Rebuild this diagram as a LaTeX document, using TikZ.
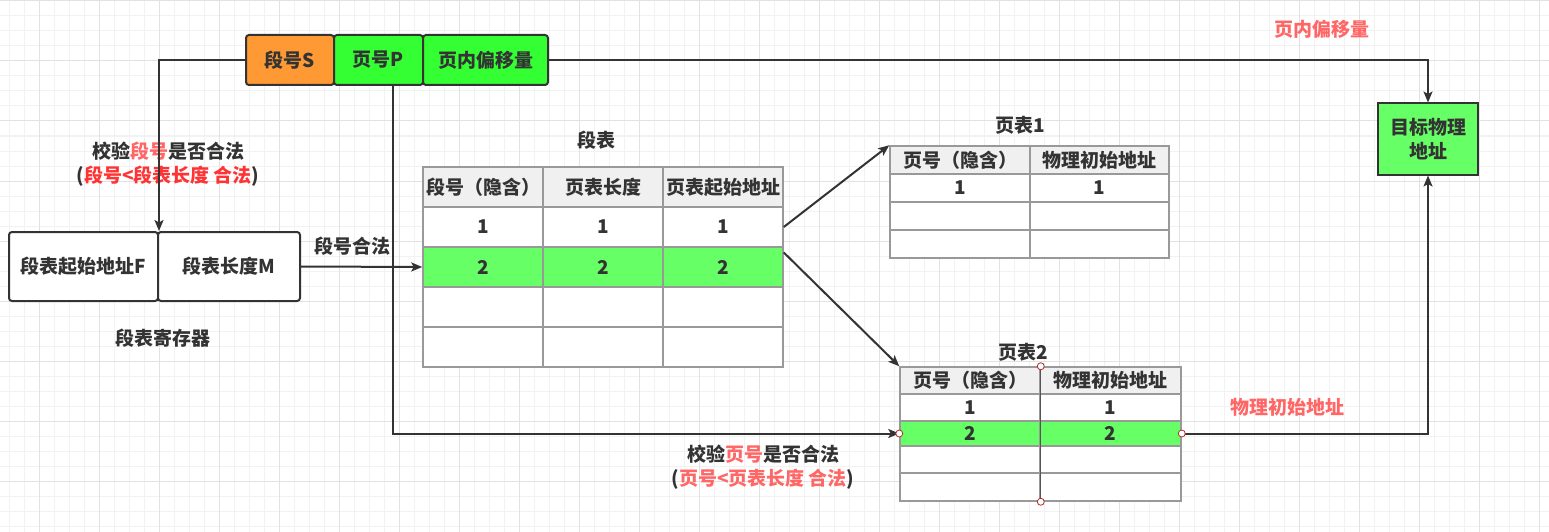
\documentclass[tikz,border=0pt]{standalone}
\usepackage{fontspec}
\setmainfont{Noto Sans CJK SC}
\usetikzlibrary{arrows.meta,calc}
\definecolor{ink}{HTML}{333333}
\definecolor{orS}{HTML}{FF9933}
\definecolor{grS}{HTML}{33FF33}
\definecolor{grR}{HTML}{66FF66}
\definecolor{hdrG}{HTML}{F0F0F0}
\definecolor{tb}{HTML}{999999}
\definecolor{redA}{HTML}{FF6666}
\definecolor{redB}{HTML}{FF3333}
\definecolor{gmin}{HTML}{F2F2F2}
\definecolor{gmaj}{HTML}{E2E2E2}
\definecolor{hdl}{HTML}{B03030}
\definecolor{divd}{HTML}{555555}
\newcommand\tcell[7]{\node[cell,fill=#6,minimum width=#4,minimum height=#5] (#1) at (#2,#3) {#7};}
\begin{document}
\begin{tikzpicture}[x=1pt,y=-1pt,
 txt/.style={text=ink,font=\fontsize{19}{24}\selectfont\bfseries,inner sep=0pt},
 box/.style={txt,draw=ink,line width=2pt,rounded corners=3pt},
 cell/.style={txt,draw=tb,line width=1.5pt},
 conn/.style={draw=ink,line width=2pt,-{Stealth[length=11pt,width=9pt,inset=2.5pt]}},
 lbl/.style={txt,align=center},
 handle/.style={circle,draw=hdl,fill=white,line width=0.8pt,minimum size=7pt,inner sep=0pt}]
\useasboundingbox (0,0) rectangle (1549,532);
\fill[white] (0,0) rectangle (1549,532);
% grid
\foreach \i in {0,...,103} {\draw[gmin,line width=1pt] ({9.3+15*\i},0) -- ({9.3+15*\i},532);}
\foreach \i in {0,...,35} {\draw[gmin,line width=1pt] (0,{1+15*\i}) -- (1549,{1+15*\i});}
\foreach \i in {0,...,25} {\draw[gmaj,line width=1pt] ({39.3+60*\i},0) -- ({39.3+60*\i},532);}
\foreach \i in {0,...,8} {\draw[gmaj,line width=1pt] (0,{1+60*\i}) -- (1549,{1+60*\i});}

% logical address fields
\node[box,fill=orS,minimum width=88,minimum height=50] (S) at (290,60) {段号S};
\node[box,fill=grS,minimum width=89,minimum height=50] (P) at (378.5,60) {页号P};
\node[box,fill=grS,minimum width=125,minimum height=50] (O) at (485.5,60) {页内偏移量};

% segment table register
\node[box,fill=white,minimum width=149,minimum height=69] (F) at (83.5,266.5) {段表起始地址F};
\node[box,fill=white,minimum width=142,minimum height=69] (M) at (229,266.5) {段表长度M};
\node[txt] (regl) at (163,338) {段表寄存器};

% target
\node[txt,draw=ink,line width=2pt,fill=grR,minimum width=100,minimum height=71,align=center] (T) at (1428,139) {目标物理\\地址};

% segment table
\node[txt] (stitle) at (596,140) {段表};
\tcell{s01}{483}{187}{120}{40}{hdrG}{段号（隐含）}
\tcell{s02}{603}{187}{120}{40}{hdrG}{页表长度}
\tcell{s03}{723}{187}{120}{40}{hdrG}{页表起始地址}
\tcell{s11}{483}{227}{120}{40}{white}{1}
\tcell{s12}{603}{227}{120}{40}{white}{1}
\tcell{s13}{723}{227}{120}{40}{white}{1}
\tcell{s21}{483}{267}{120}{40}{grR}{2}
\tcell{s22}{603}{267}{120}{40}{grR}{2}
\tcell{s23}{723}{267}{120}{40}{grR}{2}
\tcell{s31}{483}{307}{120}{40}{white}{}
\tcell{s32}{603}{307}{120}{40}{white}{}
\tcell{s33}{723}{307}{120}{40}{white}{}
\tcell{s41}{483}{347}{120}{40}{white}{}
\tcell{s42}{603}{347}{120}{40}{white}{}
\tcell{s43}{723}{347}{120}{40}{white}{}

% page table 1
\node[txt] (q1title) at (1020,125) {页表1};
\tcell{q01}{960}{160}{140}{28}{hdrG}{页号（隐含）}
\tcell{q02}{1099.5}{160}{139}{28}{hdrG}{物理初始地址}
\tcell{q11}{960}{188}{140}{28}{white}{1}
\tcell{q12}{1099.5}{188}{139}{28}{white}{1}
\tcell{q21}{960}{216}{140}{28}{white}{}
\tcell{q22}{1099.5}{216}{139}{28}{white}{}
\tcell{q31}{960}{244}{140}{28}{white}{}
\tcell{q32}{1099.5}{244}{139}{28}{white}{}

% page table 2
\node[txt] (q2title) at (1023,352) {页表2};
\tcell{r01}{970}{380.5}{140}{27}{hdrG}{页号（隐含）}
\tcell{r02}{1110.5}{380.5}{141}{27}{hdrG}{物理初始地址}
\tcell{r11}{970}{407.5}{140}{27}{white}{1}
\tcell{r12}{1110.5}{407.5}{141}{27}{white}{1}
\tcell{r21}{970}{433.5}{140}{25}{grR}{2}
\tcell{r22}{1110.5}{433.5}{141}{25}{grR}{2}
\tcell{r31}{970}{459.5}{140}{27}{white}{}
\tcell{r32}{1110.5}{459.5}{141}{27}{white}{}
\tcell{r41}{970}{487}{140}{28}{white}{}
\tcell{r42}{1110.5}{487}{141}{28}{white}{}
\draw[divd,line width=1pt] (r01.north east) -- (r41.south east);

% labels
\node[lbl] (chkS) at (168,164) {校验\textcolor{redA}{段号}是否合法\\(\textcolor{redB}{段号<段表长度 合法})};
\node[txt] (okS) at (352,246) {段号合法};
\node[lbl] (chkP) at (763,467) {校验\textcolor{redA}{页号}是否合法\\(\textcolor{redA}{页号<页表长度 合法})};
\node[txt,text=redA] (offl) at (1322,29) {页内偏移量};
\node[txt,text=redA] (phyl) at (1287,407) {物理初始地址};

% connectors
\coordinate (pdn) at (393,85);
\draw[conn] (S.west) -| (F.north east);
\draw[conn] (M.east) -- (s21.west);
\draw[conn] (pdn) |- (r21.west);
\draw[conn] (O.east) -| (T.north);
\draw[conn] (r22.east) -| (T.south);
\draw[conn] (s13.east) -- (q01.north west);
\draw[conn] ($(s23.north east)!0.15!(s23.south east)$) -- (r01.north west);

% selection handles
\node[handle] (h1) at (r01.north east) {};
\node[handle] (h2) at (r21.west) {};
\node[handle] (h3) at (r22.east) {};
\node[handle] (h4) at (r41.south east) {};
\end{tikzpicture}
\end{document}
